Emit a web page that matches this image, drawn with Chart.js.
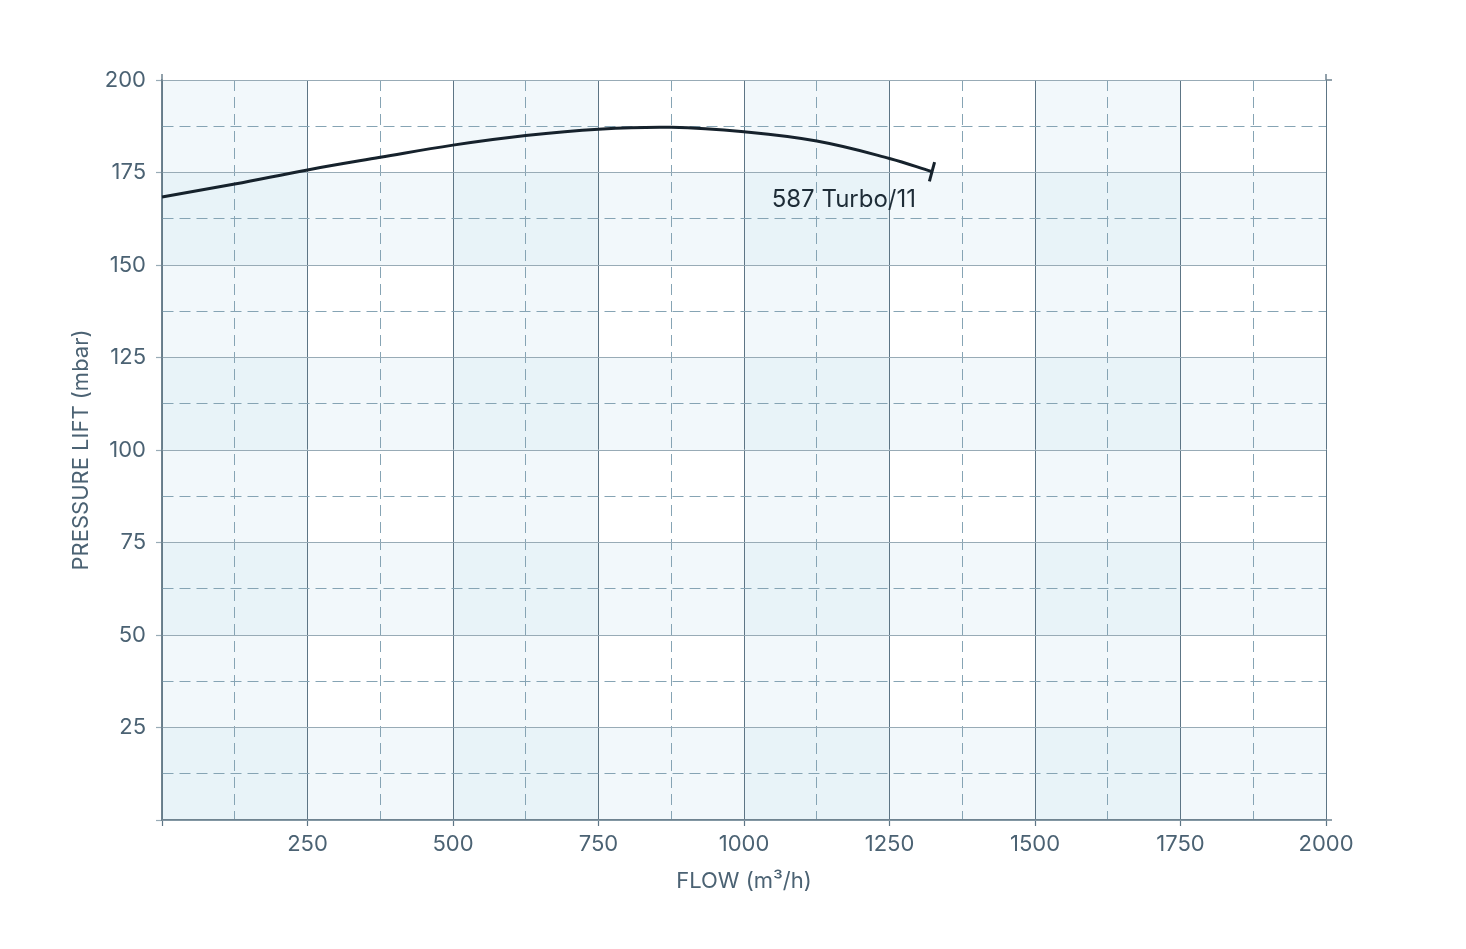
<!DOCTYPE html>
<html>
<head>
<meta charset="utf-8">
<script src="https://cdn.jsdelivr.net/npm/chart.js@4.4.1/dist/chart.umd.min.js"></script>
<style>
html,body{margin:0;padding:0;background:#fff;}
#wrap{width:1466px;height:949px;}
</style>
</head>
<body>
<div id="wrap"><canvas id="c" width="1466" height="949"></canvas></div>
<script>
// ---- data ----
const seriesName = '587 Turbo/11';
const flow = [0, 125, 250, 375, 500, 625, 750, 875, 1000, 1125, 1250, 1323];
const pressure = [168.4, 171.9, 175.7, 179.1, 182.4, 185.0, 186.7, 187.2, 186.0, 183.5, 178.8, 175.2];
const xTitle = 'FLOW (m³/h)';
const yTitle = 'PRESSURE LIFT (mbar)';
const xMax = 2000, xMajor = 250;
const yMax = 200, yMajor = 25;
const shadedCols = [[0, 250], [500, 750], [1000, 1250], [1500, 1750]];
const shadedRows = [[0, 25], [50, 75], [100, 125], [150, 175]];

const FONT = 'Inter, "Noto Sans", sans-serif';
const TEXT = '#4b6273';
const GRID_V = '#5d7585';
const GRID_H = '#98abb6';
const GRID_D = '#86a4b4';
const AXIS = '#6f8390';

const isMajor = (v, step) => Math.abs(v / step - Math.round(v / step)) < 1e-6;

const bands = {
  id: 'bands',
  beforeDraw(chart) {
    const {ctx, chartArea: a, scales: {x, y}} = chart;
    ctx.save();
    ctx.fillStyle = '#f2f8fb';
    shadedCols.forEach(([s, e]) => {
      const l = x.getPixelForValue(s), r = x.getPixelForValue(e);
      ctx.fillRect(l, a.top, r - l, a.bottom - a.top);
    });
    shadedRows.forEach(([s, e]) => {
      const t = y.getPixelForValue(e), b = y.getPixelForValue(s);
      ctx.fillRect(a.left, t, a.right - a.left, b - t);
    });
    ctx.fillStyle = '#e8f3f8';
    shadedCols.forEach(([cs, ce]) => {
      shadedRows.forEach(([rs, re]) => {
        const l = x.getPixelForValue(cs), r = x.getPixelForValue(ce);
        const t = y.getPixelForValue(re), b = y.getPixelForValue(rs);
        ctx.fillRect(l, t, r - l, b - t);
      });
    });
    ctx.restore();
  },
  afterDraw(chart) {
    const {ctx, chartArea: a} = chart;
    ctx.save();
    ctx.strokeStyle = AXIS;
    ctx.lineWidth = 1.5;
    ctx.beginPath();
    ctx.moveTo(a.left, a.top - 6); ctx.lineTo(a.left, a.top);
    ctx.moveTo(a.right, a.top - 6); ctx.lineTo(a.right, a.top);
    ctx.moveTo(a.right, a.top); ctx.lineTo(a.right + 6, a.top);
    ctx.moveTo(a.right, a.bottom); ctx.lineTo(a.right + 6, a.bottom);
    ctx.stroke();
    ctx.restore();
  },
  afterDatasetsDraw(chart) {
    const {ctx, scales: {x, y}} = chart;
    const n = flow.length - 1;
    const px = x.getPixelForValue(flow[n]), py = y.getPixelForValue(pressure[n]);
    ctx.save();
    ctx.font = '24px ' + FONT;
    ctx.fillStyle = '#1e2c37';
    ctx.textAlign = 'right';
    ctx.textBaseline = 'middle';
    ctx.fillText(chart.data.datasets[0].label, px - 16, py + 28);
    ctx.restore();
  }
};

const radii = flow.map((_, i) => i === flow.length - 1 ? 10 : 0);

new Chart(document.getElementById('c'), {
  type: 'line',
  data: {
    datasets: [{
      label: seriesName,
      data: flow.map((f, i) => ({x: f, y: pressure[i]})),
      borderColor: '#16222c',
      borderWidth: 3,
      tension: 0.4,
      pointRadius: radii,
      pointHoverRadius: radii,
      pointStyle: 'line',
      rotation: 105,
      pointBorderColor: '#16222c',
      pointBorderWidth: 3,
      fill: false,
      clip: false
    }]
  },
  options: {
    responsive: false,
    animation: false,
    events: [],
    layout: {padding: {left: 68, top: 80, right: 140, bottom: 54}},
    plugins: {legend: {display: false}, tooltip: {enabled: false}},
    scales: {
      x: {
        type: 'linear',
        min: 0, max: xMax,
        afterFit(s) { s.height = 75; },
        ticks: {
          stepSize: xMajor / 2,
          autoSkip: false,
          maxRotation: 0,
          padding: 5,
          color: TEXT,
          font: {family: FONT, size: 22},
          callback: v => (isMajor(v, xMajor) && v !== 0) ? String(v) : ''
        },
        grid: {
          color: c => isMajor(c.tick.value, xMajor) ? GRID_V : GRID_D,
          lineWidth: 1,
          tickLength: 6,
          tickColor: c => isMajor(c.tick.value, xMajor) ? GRID_V : 'rgba(0,0,0,0)',
          tickWidth: 1.2
        },
        border: {
          color: AXIS, width: 1.5,
          dash: c => (c.tick && !isMajor(c.tick.value, xMajor)) ? [11, 6] : []
        },
        title: {display: true, text: xTitle, color: TEXT, font: {family: FONT, size: 22}, padding: 0}
      },
      y: {
        type: 'linear',
        min: 0, max: yMax,
        afterFit(s) { s.width = 94; },
        ticks: {
          stepSize: yMajor / 2,
          autoSkip: false,
          padding: 10,
          color: TEXT,
          font: {family: FONT, size: 22},
          callback: v => (isMajor(v, yMajor) && v !== 0) ? String(v) : ''
        },
        grid: {
          color: c => isMajor(c.tick.value, yMajor) ? GRID_H : GRID_D,
          lineWidth: 1,
          tickLength: 6,
          tickColor: c => isMajor(c.tick.value, yMajor) ? GRID_H : 'rgba(0,0,0,0)',
          tickWidth: 1.2
        },
        border: {
          color: AXIS, width: 1.5,
          dash: c => (c.tick && !isMajor(c.tick.value, yMajor)) ? [11, 6] : []
        },
        title: {display: true, text: yTitle, color: TEXT, font: {family: FONT, size: 22}, padding: 0}
      }
    }
  },
  plugins: [bands]
});
</script>
</body>
</html>
